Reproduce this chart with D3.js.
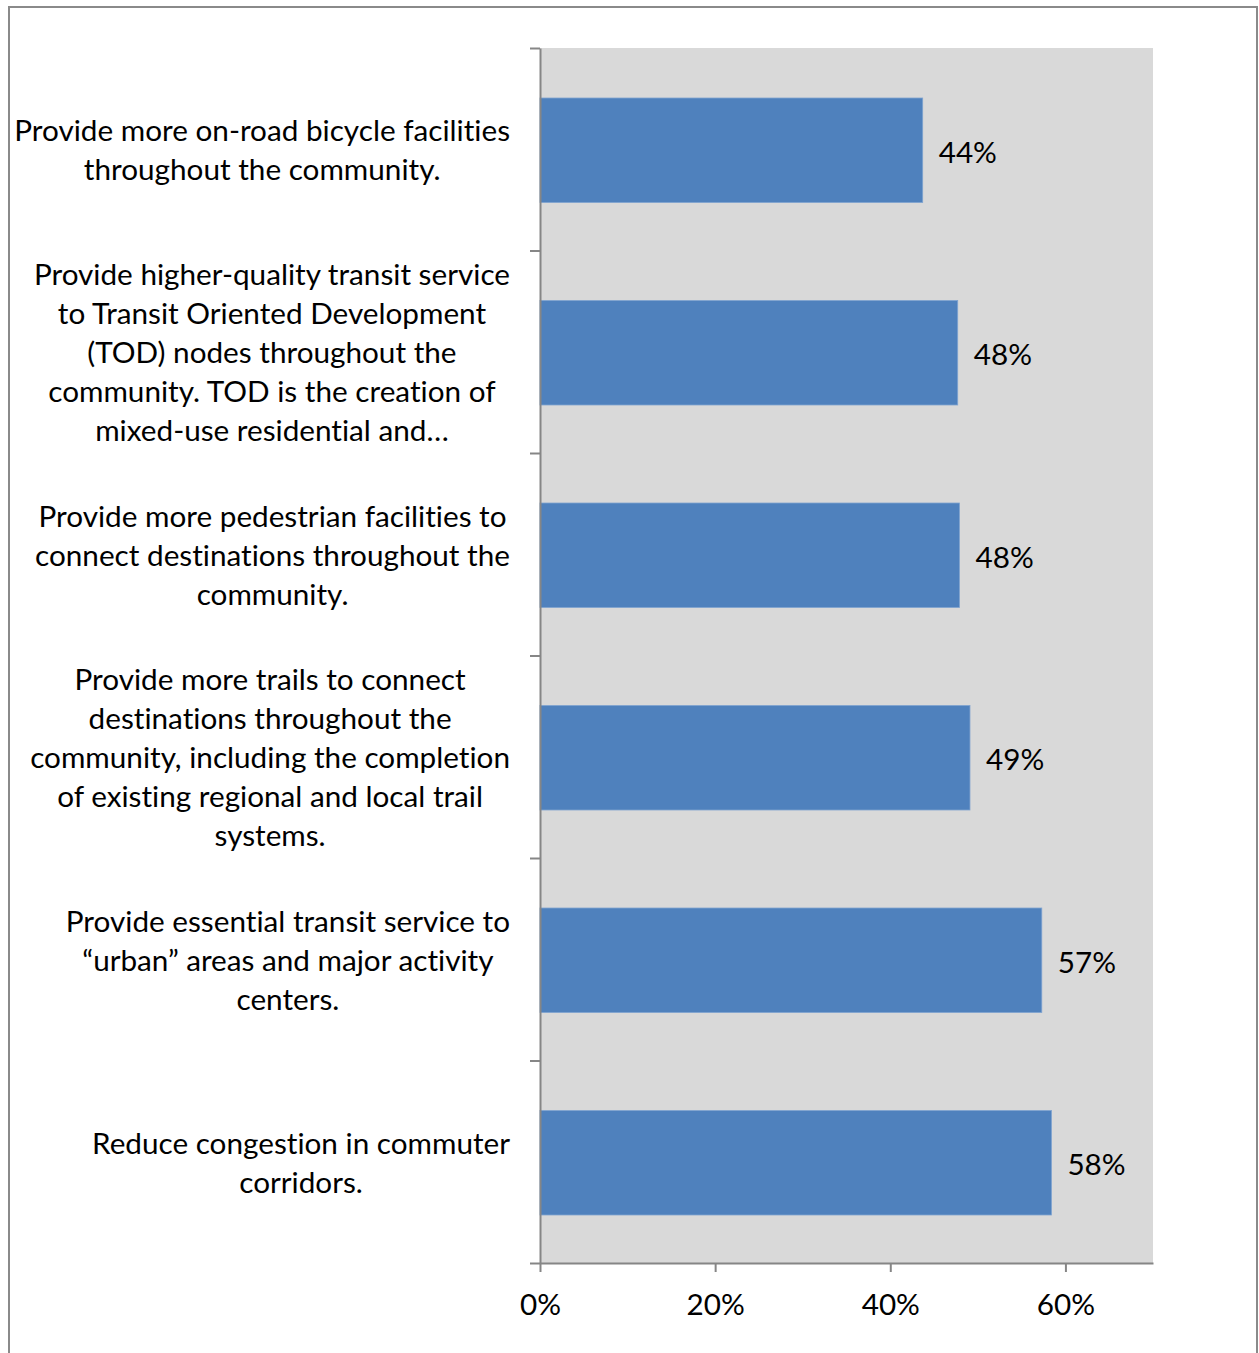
<!DOCTYPE html>
<html>
<head>
<meta charset="utf-8">
<script src="https://cdn.jsdelivr.net/npm/d3@7"></script>
<style>
  html, body { margin: 0; padding: 0; background: #fff; }
  svg { display: block; }
  text { font-family: Lato, "Open Sans", sans-serif; fill: #000; font-variant-ligatures: none; font-feature-settings: "liga" 0; }
</style>
</head>
<body>
<svg id="chart" width="1259" height="1353"></svg>
<script>
// Survey results: share of respondents choosing each transportation priority
const categories = [
  ["Provide more on-road bicycle facilities", "throughout the community."],
  ["Provide higher-quality transit service", "to Transit Oriented Development", "(TOD) nodes throughout the", "community. TOD is the creation of", "mixed-use residential and…"],
  ["Provide more pedestrian facilities to", "connect destinations throughout the", "community."],
  ["Provide more trails to connect", "destinations throughout the", "community, including the completion", "of existing regional and local trail", "systems."],
  ["Provide essential transit service to", "“urban” areas and major activity", "centers."],
  ["Reduce congestion in commuter", "corridors."]
];
const values = [43.7, 47.7, 47.9, 49.1, 57.3, 58.4];
const xTicks = [0, 20, 40, 60];
const xMax = 70;

const svg = d3.select("#chart");
const plot = { left: 540, right: 1153, top: 48, bottom: 1263 };
const axisColor = "#868686";

// outer frame
svg.append("rect")
  .attr("x", 9).attr("y", 7)
  .attr("width", 1248).attr("height", 1400)
  .attr("fill", "#fff")
  .attr("stroke", "#8a8a8a").attr("stroke-width", 2);

// pick a font size so the widest category line spans the label column
const probe = svg.append("text").attr("font-size", 100).text(categories[0][0]);
const fontSize = 100 * 496 / probe.node().getComputedTextLength();
probe.remove();

const x = d3.scaleLinear().domain([0, xMax]).range([plot.left, plot.right]);
const y = d3.scaleBand()
  .domain(d3.range(categories.length))
  .range([plot.top + 1, plot.bottom + 1])
  .paddingInner(0.484).paddingOuter(0.242);
const yEdge = d3.scaleLinear().domain([0, categories.length]).range([plot.top, plot.bottom]);

// plot background
svg.append("rect")
  .attr("x", plot.left).attr("y", plot.top)
  .attr("width", plot.right - plot.left).attr("height", plot.bottom - plot.top)
  .attr("fill", "#d9d9d9");

// bars
svg.append("g").selectAll("rect")
  .data(values)
  .join("rect")
  .attr("x", x(0))
  .attr("y", (d, i) => y(i))
  .attr("width", d => x(d) - x(0))
  .attr("height", y.bandwidth())
  .attr("fill", "#4f81bd")
  .attr("stroke", "#7fa3d0").attr("stroke-width", 0.8);

// value labels
svg.append("g").selectAll("text")
  .data(values)
  .join("text")
  .attr("x", d => x(d) + 16)
  .attr("y", (d, i) => y(i) + y.bandwidth() / 2 + 2)
  .attr("dy", "0.35em")
  .attr("font-size", fontSize)
  .text(d => Math.round(d) + "%");

// category axis (ticks at band edges)
const yAxis = svg.append("g")
  .attr("transform", `translate(${plot.left},0)`)
  .call(d3.axisLeft(yEdge).tickValues(d3.range(categories.length + 1)).tickFormat("").tickSize(10).tickSizeOuter(0));
yAxis.selectAll("path, line").attr("stroke", axisColor).attr("stroke-width", 2);

// value axis
const xAxis = svg.append("g")
  .attr("transform", `translate(0,${plot.bottom})`)
  .call(d3.axisBottom(x).tickValues(xTicks).tickFormat(d => d + "%").tickSize(9).tickSizeOuter(0).tickPadding(22));
xAxis.selectAll("path, line").attr("stroke", axisColor).attr("stroke-width", 2);
xAxis.selectAll("text")
  .attr("font-size", fontSize)
  .attr("font-family", "Lato, 'Open Sans', sans-serif")
  .attr("fill", "#000");

// wrapped category labels, each block centred with its widest line ending at the axis gap
const lineH = 39;
const labelRight = 510;
const labels = svg.append("g");
categories.forEach((lines, i) => {
  const g = labels.append("g");
  const t = g.append("text").attr("font-size", fontSize).attr("text-anchor", "middle");
  const cy = y(i) + y.bandwidth() / 2;
  lines.forEach((ln, k) => {
    t.append("tspan")
      .attr("y", cy + (k - (lines.length - 1) / 2) * lineH)
      .attr("dy", "0.35em")
      .text(ln);
  });
  const widths = t.selectAll("tspan").nodes().map(n => n.getComputedTextLength());
  const cx = labelRight - d3.max(widths) / 2;
  t.selectAll("tspan").attr("x", cx);
});
</script>
</body>
</html>
